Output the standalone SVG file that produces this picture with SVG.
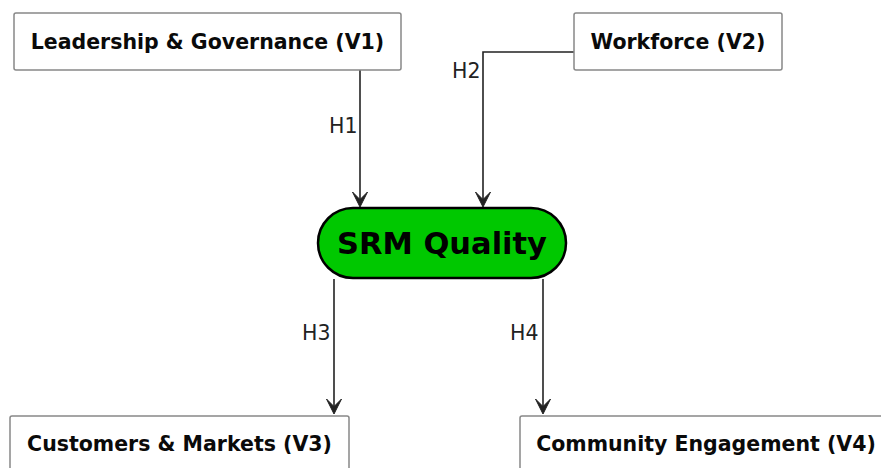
<svg xmlns="http://www.w3.org/2000/svg" width="881" height="468" viewBox="0 0 881 468">
  <style>
    .box { fill: #ffffff; stroke: #888888; stroke-width: 1.5; }
    .lbl { font-family: "DejaVu Sans", sans-serif; font-weight: bold; font-size: 20.5px; fill: #0a0a0a; text-anchor: middle; }
    .edge { fill: none; stroke: #222222; stroke-width: 1.6; }
    .head { fill: #222222; stroke: #222222; stroke-width: 1; stroke-linejoin: miter; }
    .tag { font-family: "DejaVu Sans", sans-serif; font-size: 20.5px; fill: #222222; }
    .core { fill: #00c800; stroke: #000000; stroke-width: 2.5; }
    .coretext { font-family: "DejaVu Sans", sans-serif; font-weight: bold; font-size: 30.5px; fill: #000000; text-anchor: middle; }
  </style>
  <defs>
    <!-- notched arrowhead, tip at origin pointing down -->
    <path id="ah" class="head" d="M0,0 L-7.5,-15 L0,-7.5 L7.5,-15 Z"/>
  </defs>

  <rect width="881" height="468" fill="#ffffff"/>

  <g id="edges">
    <path class="edge" d="M360,70 L360,200"/>
    <path class="edge" d="M574,52 L483,52 L483,200"/>
    <path class="edge" d="M334,279 L334,407"/>
    <path class="edge" d="M543,279 L543,407"/>
    <use href="#ah" x="360" y="207"/>
    <use href="#ah" x="483" y="207"/>
    <use href="#ah" x="334" y="414"/>
    <use href="#ah" x="543" y="414"/>
    <text class="tag" x="329" y="133">H1</text>
    <text class="tag" x="452" y="78">H2</text>
    <text class="tag" x="302" y="340">H3</text>
    <text class="tag" x="510" y="340">H4</text>
  </g>

  <g id="v1">
    <rect class="box" x="14" y="13" width="387" height="57" rx="2"/>
    <text class="lbl" x="207.5" y="48.5">Leadership &amp; Governance (V1)</text>
  </g>

  <g id="v2">
    <rect class="box" x="574" y="13" width="208" height="57" rx="2"/>
    <text class="lbl" x="678" y="48.5">Workforce (V2)</text>
  </g>

  <g id="srm">
    <rect class="core" x="318" y="208" width="248" height="70" rx="35"/>
    <text class="coretext" x="442" y="254">SRM Quality</text>
  </g>

  <g id="v3">
    <rect class="box" x="10" y="416" width="339" height="70" rx="2"/>
    <text class="lbl" x="179.5" y="451">Customers &amp; Markets (V3)</text>
  </g>

  <g id="v4">
    <rect class="box" x="520" y="416" width="380" height="70" rx="2"/>
    <text class="lbl" x="706" y="451">Community Engagement (V4)</text>
  </g>
</svg>
